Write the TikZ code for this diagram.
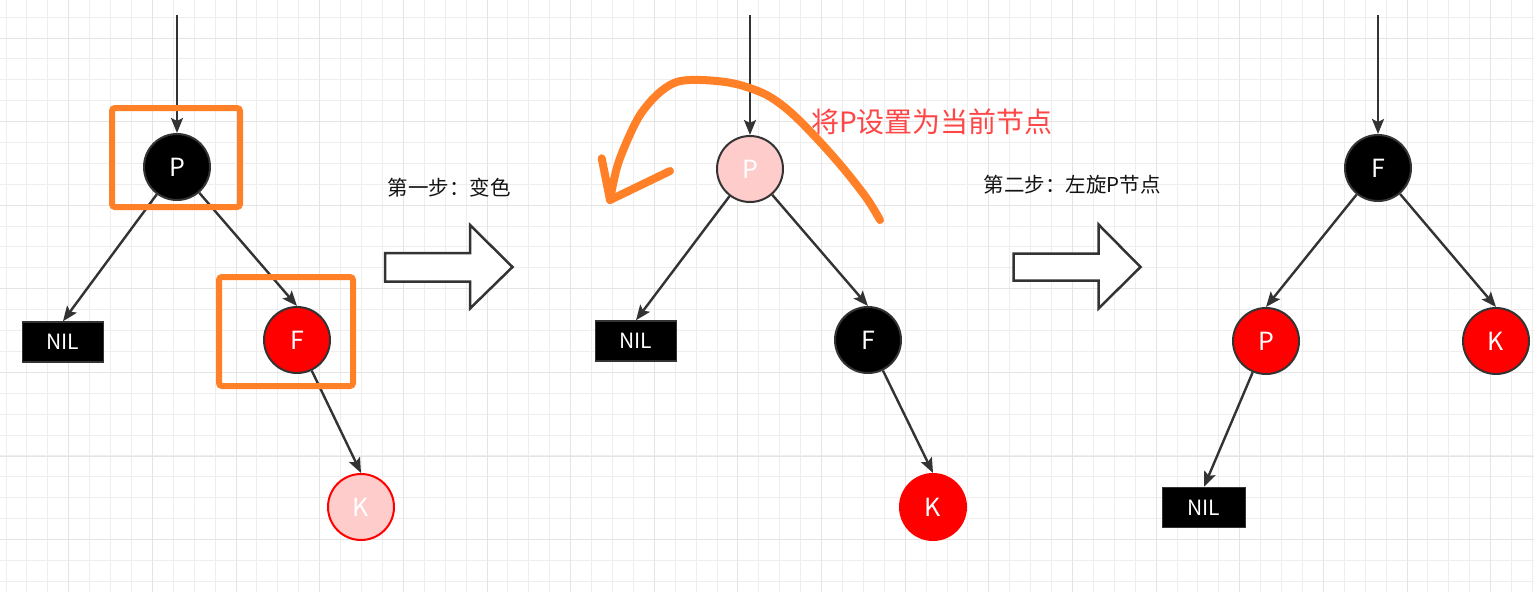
\documentclass[tikz,border=0pt]{standalone}
\usepackage{fontspec}
\newfontfamily\cjk{Noto Sans CJK SC}
\usetikzlibrary{arrows.meta}
\definecolor{gridminor}{RGB}{238,238,238}
\definecolor{gridmajor}{RGB}{228,228,228}
\definecolor{edgec}{RGB}{51,51,51}
\definecolor{orangec}{RGB}{255,128,39}
\definecolor{pinkc}{RGB}{255,204,204}
\definecolor{redc}{RGB}{255,0,0}
\definecolor{labelred}{RGB}{255,70,70}
\definecolor{stepc}{RGB}{20,20,20}
\tikzset{
  rbnode/.style={circle,minimum size=66pt,inner sep=0pt,line width=2pt,text=white,font=\cjk\fontsize{25}{25}\selectfont},
  blacknode/.style={rbnode,fill=black,draw=edgec},
  rednode/.style={rbnode,fill=redc,draw=edgec},
  rednodeb/.style={rbnode,fill=redc,draw=redc},
  pinknode/.style={rbnode,fill=pinkc,draw=edgec},
  pinknodeb/.style={rbnode,fill=pinkc,draw=redc},
  nilnode/.style={rectangle,minimum width=81pt,minimum height=40pt,inner sep=0pt,fill=black,draw=edgec,line width=1.5pt,text=white,font=\cjk\fontsize{21}{21}\selectfont},
  edge/.style={draw=edgec,line width=2.4pt,-{Stealth[length=15pt,width=12pt,inset=3pt]}},
  hlbox/.style={draw=orangec,line width=6pt,rounded corners=3pt},
  bigarrow/.style={draw=edgec,fill=white,line width=2.5pt,line join=miter},
  steplabel/.style={text=stepc,font=\cjk\fontsize{20.5}{20.5}\selectfont,inner sep=0pt},
  redlabel/.style={text=labelred,font=\cjk\fontsize{28}{28}\selectfont,inner sep=0pt},
  stroke/.style={draw=orangec,line width=8pt,line cap=round,line join=round}
}
\begin{document}
\begin{tikzpicture}[x=1pt,y=-1pt]
\useasboundingbox (0,0) rectangle (1534,592);
\fill[white] (0,0) rectangle (1534,592);
% grid (snapped to whole pixels)
\foreach \k in {0,...,73} {\pgfmathsetmacro\gx{round(5.57+20.91*\k)+0.5}\draw[gridminor,line width=1pt] (\gx,0) -- (\gx,592);}
\foreach \k in {0,...,27} {\pgfmathsetmacro\gy{round(16.6+20.9*\k)+0.5}\draw[gridminor,line width=1pt] (0,\gy) -- (1534,\gy);}
\foreach \k in {0,...,17} {\pgfmathsetmacro\gx{round(68.3+83.65*\k)+0.5}\draw[gridmajor,line width=1pt] (\gx,0) -- (\gx,592);}
\foreach \k in {0,...,6} {\pgfmathsetmacro\gy{round(37.5+83.6*\k)+0.5}\draw[gridmajor,line width=1pt] (0,\gy) -- (1534,\gy);}

% ---------- left panel ----------
\coordinate (t1) at (177,15);
\node[blacknode] (P1) at (177,167) {P};
\node[nilnode] (N1) at (63,342) {NIL};
\node[rednode] (F1) at (297,340) {F};
\node[pinknodeb] (K1) at (361,507) {K};
\draw[edge] (t1) -- (P1);
\draw[edge] (P1) -- (N1.north);
\draw[edge] (P1) -- (F1.north);
\draw[edge] (F1) -- (K1.north);
\draw[hlbox] (112,108) rectangle (240,207);
\draw[hlbox] (219,277) rectangle (353,386);

% ---------- step 1 ----------
\node[steplabel] (s1) at (449,188) {第一步：变色};
\draw[bigarrow] (385,253) -- (470,253) -- (470,225) -- (512.5,267) -- (470,308.5) -- (470,281.5) -- (385,281.5) -- cycle;

% ---------- middle panel ----------
\coordinate (t2) at (750,15);
\node[pinknode] (P2) at (750,169) {P};
\node[nilnode] (N2) at (636,341) {NIL};
\node[blacknode] (F2) at (868,340) {F};
\node[rednodeb] (K2) at (933,507) {K};
\draw[edge] (t2) -- (P2);
\draw[edge] (P2) -- (N2.north);
\draw[edge] (P2) -- (F2.north);
\draw[edge] (F2) -- (K2.north);
\node[redlabel,anchor=west] (lbl) at (811,122) {将P设置为当前节点};
\draw[stroke] plot[smooth,tension=0.55] coordinates {(880,220) (866.7,198.3) (843.3,168.3) (816.7,138.3) (790,111.7) (766.7,95) (740,85) (716.7,81) (690,80) (673.3,83.3) (656.7,95) (640,115) (626.7,141.7) (616.7,168.3) (610,200)};
\draw[stroke] (601.7,158.3) -- (610,200) -- (670,171);

% ---------- step 2 ----------
\node[steplabel] (s2) at (1072,185) {第二步：左旋P节点};
\draw[bigarrow] (1013.5,253.5) -- (1098.5,253.5) -- (1098.5,224.5) -- (1140.5,267) -- (1098.5,308.5) -- (1098.5,280.5) -- (1013.5,280.5) -- cycle;

% ---------- right panel ----------
\coordinate (t3) at (1378,15);
\node[blacknode] (F3) at (1378,168) {F};
\node[rednode] (P3) at (1266,341) {P};
\node[rednode] (K3) at (1496,341) {K};
\node[nilnode,minimum width=83pt] (N3) at (1204,507.5) {NIL};
\draw[edge] (t3) -- (F3);
\draw[edge] (F3) -- (P3.north);
\draw[edge] (F3) -- (K3.north);
\draw[edge] (P3) -- (N3.north);
\end{tikzpicture}
\end{document}
